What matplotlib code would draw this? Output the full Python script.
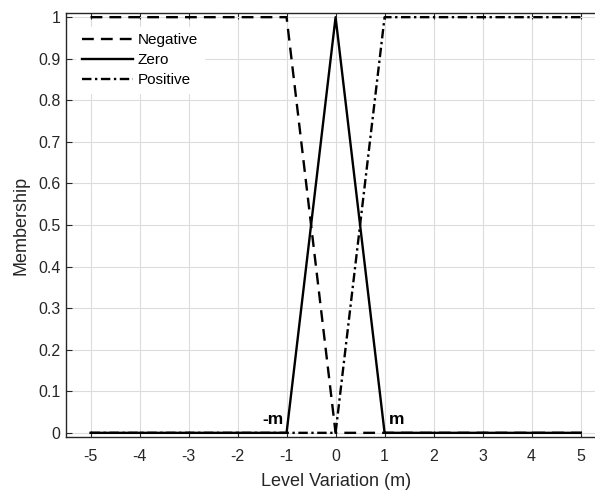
import matplotlib
matplotlib.use("Agg")
import matplotlib.pyplot as plt

plt.rcParams['font.family'] = ['Liberation Sans', 'DejaVu Sans']

# membership functions (breakpoints)
neg_x = [-5, -1, 0, 5]
neg_y = [1, 1, 0, 0]
zero_x = [-5, -1, 0, 1, 5]
zero_y = [0, 0, 1, 0, 0]
pos_x = [-5, 0, 1, 5]
pos_y = [0, 0, 1, 1]
xticks = list(range(-5, 6))
yticks = [0, 0.1, 0.2, 0.3, 0.4, 0.5, 0.6, 0.7, 0.8, 0.9, 1]

fig = plt.figure(figsize=(5.95, 4.91), dpi=100)
ax = fig.add_axes([0.111, 0.110, 0.906, 0.8635])

ax.plot(neg_x, neg_y, color='k', lw=1.7, ls=(0, (5, 3)), label='Negative', zorder=3)
ax.plot(pos_x, pos_y, color='k', lw=1.7, ls=(0, (4, 1.5, 1, 1.5)), label='Positive', zorder=3)
ax.plot(zero_x, zero_y, color='k', lw=1.7, ls='-', label='Zero', zorder=4)

ax.text(-1.05, 0.015, '-m', ha='right', va='bottom', fontsize=12.5, fontweight='bold')
ax.text(1.08, 0.015, 'm', ha='left', va='bottom', fontsize=12.5, fontweight='bold')

ax.set_xlim(-5.5, 5.5)
ax.set_ylim(-0.01, 1.01)
ax.set_xticks(xticks)
ax.set_xticklabels([str(t) for t in xticks])
ax.set_yticks(yticks)
ax.set_yticklabels([f'{t:g}' for t in yticks])
ax.tick_params(direction='in', top=True, right=True, labelsize=11.5, colors='#262626', length=4)
ax.tick_params(axis='x', pad=9)
ax.tick_params(axis='y', pad=4)
ax.grid(color='#dcdcdc', lw=0.8, zorder=0)
for s in ax.spines.values():
    s.set_color('#262626')
    s.set_linewidth(1.0)

ax.set_xlabel('Level Variation (m)', fontsize=13, color='#262626', labelpad=6)
ax.set_ylabel('Membership', fontsize=13, color='#262626', labelpad=6)

h, l = ax.get_legend_handles_labels()
order = [0, 2, 1]
leg = ax.legend([h[i] for i in order], [l[i] for i in order], loc='upper left',
                bbox_to_anchor=(0.005, 0.985), fontsize=11, frameon=True,
                handlelength=3.3, handletextpad=0.3, labelspacing=0.4,
                borderpad=0.4, fancybox=False)
leg.get_frame().set_edgecolor('white')
leg.get_frame().set_alpha(1.0)

fig.savefig('out.png', dpi=100)
